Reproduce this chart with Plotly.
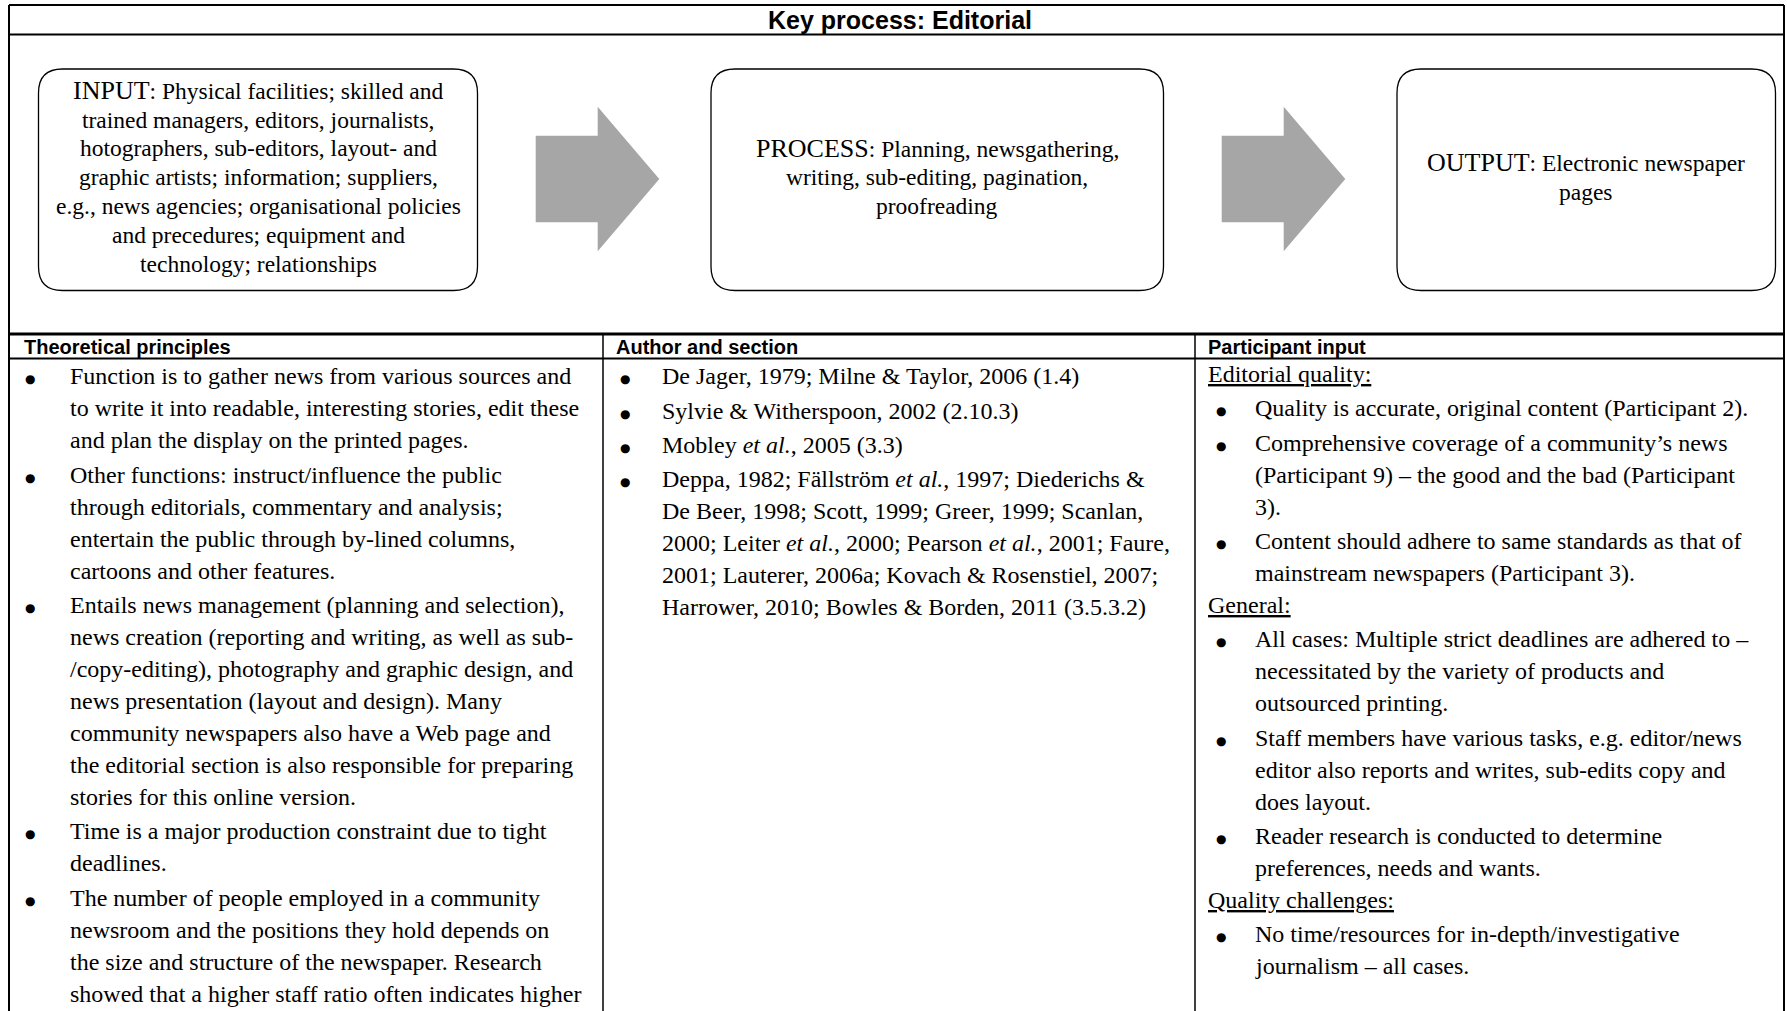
import plotly.graph_objects as go

W, H = 1787, 1011

# ---------------- text data ----------------
title_text = "Key process: Editorial"
header_labels = ["Theoretical principles", "Author and section", "Participant input"]

input_lines = [
    "<span style='font-size:26px'>INPUT</span>: Physical facilities; skilled and",
    "trained managers, editors, journalists,",
    "hotographers, sub-editors, layout- and",
    "graphic artists; information; suppliers,",
    "e.g., news agencies; organisational policies",
    "and precedures; equipment and",
    "technology; relationships",
]
process_lines = [
    "<span style='font-size:26px'>PROCESS</span>: Planning, newsgathering,",
    "writing, sub-editing, pagination,",
    "proofreading",
]
output_lines = [
    "<span style='font-size:26px'>OUTPUT</span>: Electronic newspaper",
    "pages",
]

# kind: "b" = new bullet item, "c" = continuation line, "h" = underlined sub-heading
col1_kinds = ["b", "c", "c", "b", "c", "c", "c", "b", "c", "c", "c", "c", "c", "c", "b", "c", "b", "c", "c", "c"]
col1_lines = [
    "Function is to gather news from various sources and",
    "to write it into readable, interesting stories, edit these",
    "and plan the display on the printed pages.",
    "Other functions: instruct/influence the public",
    "through editorials, commentary and analysis;",
    "entertain the public through by-lined columns,",
    "cartoons and other features.",
    "Entails news management (planning and selection),",
    "news creation (reporting and writing, as well as sub-",
    "/copy-editing), photography and graphic design, and",
    "news presentation (layout and design). Many",
    "community newspapers also have a Web page and",
    "the editorial section is also responsible for preparing",
    "stories for this online version.",
    "Time is a major production constraint due to tight",
    "deadlines.",
    "The number of people employed in a community",
    "newsroom and the positions they hold depends on",
    "the size and structure of the newspaper. Research",
    "showed that a higher staff ratio often indicates higher",
]

col2_kinds = ["b", "b", "b", "b", "c", "c", "c", "c"]
col2_lines = [
    "De Jager, 1979; Milne & Taylor, 2006 (1.4)",
    "Sylvie & Witherspoon, 2002 (2.10.3)",
    "Mobley <i>et al.</i>, 2005 (3.3)",
    "Deppa, 1982; Fällström <i>et al.</i>, 1997; Diederichs &",
    "De Beer, 1998; Scott, 1999; Greer, 1999; Scanlan,",
    "2000; Leiter <i>et al.</i>, 2000; Pearson <i>et al.</i>, 2001; Faure,",
    "2001; Lauterer, 2006a; Kovach & Rosenstiel, 2007;",
    "Harrower, 2010; Bowles & Borden, 2011 (3.5.3.2)",
]

col3_kinds = ["h", "b", "b", "c", "c", "b", "c", "h", "b", "c", "c", "b", "c", "c", "b", "c", "h", "b", "c"]
col3_lines = [
    "Editorial quality:",
    "Quality is accurate, original content (Participant 2).",
    "Comprehensive coverage of a community\u2019s news",
    "(Participant 9) \u2013 the good and the bad (Participant",
    "3).",
    "Content should adhere to same standards as that of",
    "mainstream newspapers (Participant 3).",
    "General:",
    "All cases: Multiple strict deadlines are adhered to \u2013",
    "necessitated by the variety of products and",
    "outsourced printing.",
    "Staff members have various tasks, e.g. editor/news",
    "editor also reports and writes, sub-edits copy and",
    "does layout.",
    "Reader research is conducted to determine",
    "preferences, needs and wants.",
    "Quality challenges:",
    "No time/resources for in-depth/investigative",
    "journalism \u2013 all cases.",
]

# ---------------- styling / layout constants ----------------
SERIF = "Liberation Serif, Times New Roman, serif"
SANS = "Liberation Sans, Arial, sans-serif"
BODY_SIZE = 24
BOX_SIZE = 23.5
ARROW_COLOR = "#a6a6a6"

LEFT, RIGHT, TOP = 9, 1784, 5
TITLE_BOTTOM = 34.5
SECTION_LINE = 334
HEADER_BOTTOM = 358.5
DIV1, DIV2 = 603, 1195

fig = go.Figure()
shapes = []
annotations = []


def hline(y, x0, x1, w):
    shapes.append(dict(type="line", x0=x0, x1=x1, y0=y, y1=y, xref="x", yref="y",
                       line=dict(color="black", width=w)))


def vline(x, y0, y1, w):
    shapes.append(dict(type="line", x0=x, x1=x, y0=y0, y1=y1, xref="x", yref="y",
                       line=dict(color="black", width=w)))


# table frame
vline(LEFT, TOP, H + 20, 2)
vline(RIGHT, TOP, H + 20, 2)
hline(TOP, LEFT, RIGHT, 2)
hline(TITLE_BOTTOM, LEFT, RIGHT, 2)
hline(SECTION_LINE, LEFT, RIGHT, 3)
hline(HEADER_BOTTOM, LEFT, RIGHT, 2)
vline(DIV1, SECTION_LINE, H + 20, 1.5)
vline(DIV2, SECTION_LINE, H + 20, 1.5)


def rounded_box(x0, y0, x1, y1, r):
    p = (f"M {x0 + r} {y0} L {x1 - r} {y0} Q {x1} {y0} {x1} {y0 + r} "
         f"L {x1} {y1 - r} Q {x1} {y1} {x1 - r} {y1} "
         f"L {x0 + r} {y1} Q {x0} {y1} {x0} {y1 - r} "
         f"L {x0} {y0 + r} Q {x0} {y0} {x0 + r} {y0} Z")
    shapes.append(dict(type="path", path=p, xref="x", yref="y",
                       line=dict(color="black", width=1.3), fillcolor="rgba(0,0,0,0)"))


def arrow(x0, yc, shaft_len, total_len, shaft_half, head_half):
    xb = x0 + shaft_len
    xt = x0 + total_len
    p = (f"M {x0} {yc - shaft_half} L {xb} {yc - shaft_half} L {xb} {yc - head_half} "
         f"L {xt} {yc} L {xb} {yc + head_half} L {xb} {yc + shaft_half} "
         f"L {x0} {yc + shaft_half} Z")
    shapes.append(dict(type="path", path=p, xref="x", yref="y",
                       line=dict(width=0), fillcolor=ARROW_COLOR))


BOX_TOP, BOX_BOTTOM, RADIUS = 69, 290.5, 24
boxes = [(38.5, 477.5, input_lines), (711, 1163.5, process_lines), (1397, 1775.5, output_lines)]
BOX_LH = 28.85
box_mid = (BOX_TOP + BOX_BOTTOM) / 2 - 2.5
for bx0, bx1, lines in boxes:
    rounded_box(bx0, BOX_TOP, bx1, BOX_BOTTOM, RADIUS)
    n = len(lines)
    for i, t in enumerate(lines):
        y = box_mid + (i - (n - 1) / 2) * BOX_LH
        annotations.append(dict(x=(bx0 + bx1) / 2, y=y, xref="x", yref="y", text=t,
                                showarrow=False, xanchor="center", yanchor="middle",
                                font=dict(family=SERIF, size=BOX_SIZE, color="black")))

arrow(535.7, 179, 62, 123.6, 43.2, 72.2)
arrow(1221.7, 179, 62, 123.6, 43.2, 72.2)

# title
annotations.append(dict(x=(LEFT + RIGHT) / 2 + 3, y=(TOP + TITLE_BOTTOM) / 2 + 0.5, xref="x", yref="y",
                        text=f"<b>{title_text}</b>", showarrow=False, xanchor="center",
                        yanchor="middle", font=dict(family=SANS, size=25, color="black")))

# column headers
header_x = [22, 614, 1206]
for hx, lab in zip(header_x, header_labels):
    annotations.append(dict(x=hx, y=(SECTION_LINE + HEADER_BOTTOM) / 2 + 0.5, xref="x", yref="y",
                            text=f"<b>{lab}</b>", showarrow=False, xanchor="left",
                            yanchor="middle", font=dict(family=SANS, size=20, color="black")))

# body columns
LINE0, LH, GAP = 374, 32.0, 2.3
columns = [
    (col1_kinds, col1_lines, 30, 67.5, 22),
    (col2_kinds, col2_lines, 625, 660, 614),
    (col3_kinds, col3_lines, 1221, 1252.5, 1206),
]
for kinds, lines, bullet_x, text_x, head_x in columns:
    nb = 0
    for i, (k, t) in enumerate(zip(kinds, lines)):
        if k == "b":
            nb += 1
        y = LINE0 + i * LH + nb * GAP
        if k == "h":
            annotations.append(dict(x=head_x, y=y, xref="x", yref="y", text=f"<u>{t}</u>",
                                    showarrow=False, xanchor="left", yanchor="middle",
                                    font=dict(family=SERIF, size=BODY_SIZE, color="black")))
            continue
        if k == "b":
            annotations.append(dict(x=bullet_x, y=y + 3, xref="x", yref="y", text="\u25CF",
                                    showarrow=False, xanchor="center", yanchor="middle",
                                    font=dict(family="DejaVu Sans", size=12, color="black")))
        annotations.append(dict(x=text_x, y=y, xref="x", yref="y", text=t,
                                showarrow=False, xanchor="left", yanchor="middle",
                                font=dict(family=SERIF, size=BODY_SIZE, color="black")))

fig.update_layout(
    width=W, height=H,
    margin=dict(l=0, r=0, t=0, b=0),
    paper_bgcolor="white", plot_bgcolor="white",
    xaxis=dict(range=[0, W], visible=False, fixedrange=True),
    yaxis=dict(range=[H, 0], visible=False, fixedrange=True),
    shapes=shapes, annotations=annotations, showlegend=False,
)

fig.write_html(
    "out.html",
    config={"displayModeBar": False},
    post_script="document.body.style.margin='0px';document.body.style.overflow='hidden';",
)
